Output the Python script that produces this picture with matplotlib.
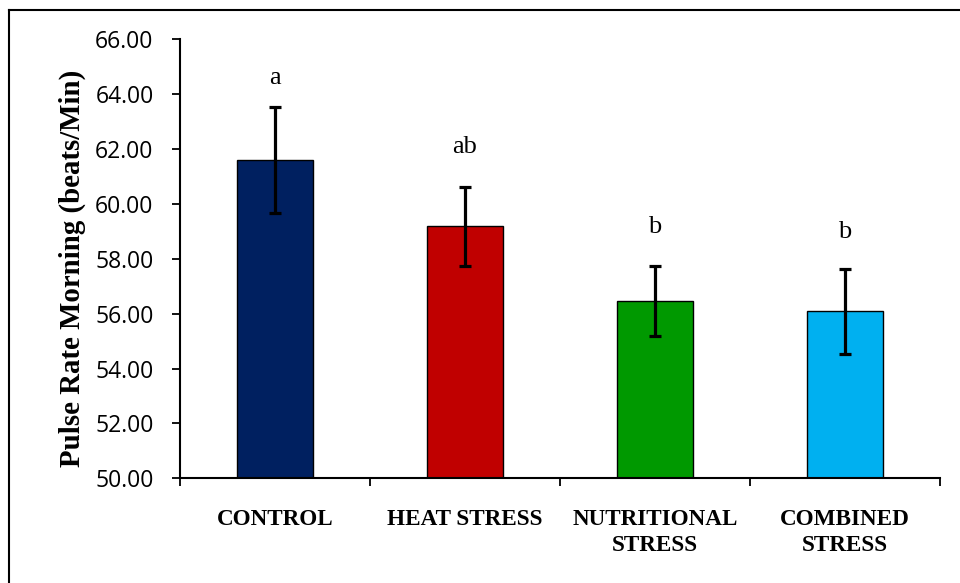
import matplotlib
matplotlib.use("Agg")
import matplotlib.pyplot as plt
from matplotlib.lines import Line2D

categories = ["CONTROL", "HEAT STRESS", "NUTRITIONAL\nSTRESS", "COMBINED\nSTRESS"]
means = [61.60, 59.18, 56.47, 56.08]
errors = [1.94, 1.44, 1.27, 1.55]
letters = ["a", "ab", "b", "b"]
letter_y = [64.37, 61.85, 58.93, 58.75]
colors = ["#002060", "#C00000", "#009900", "#00B0F0"]
yticks = [50, 52, 54, 56, 58, 60, 62, 64, 66]

W, H = 960, 583
fig = plt.figure(figsize=(W / 100, H / 100), dpi=100)
ax = fig.add_axes([180 / W, 1 - 478.3 / H, 760 / W, (478.3 - 39.3) / H])

x = list(range(len(categories)))
ax.bar(x, means, width=0.4, color=colors, edgecolor="black", linewidth=1.0, zorder=2)
ax.errorbar(x, means, yerr=errors, fmt="none", ecolor="black", elinewidth=2.3,
            capsize=4.4, capthick=2.3, zorder=3)

for xi, lab, ly in zip(x, letters, letter_y):
    ax.text(xi, ly, lab, ha="center", va="baseline", fontsize=19,
            family="Liberation Serif")

ax.set_xlim(-0.5, len(categories) - 0.5)
ax.set_ylim(50, 66)
ax.set_yticks(yticks)
ax.set_yticklabels([f"{v:.2f}" for v in yticks], family="Open Sans", fontsize=16.5)
ax.tick_params(axis="y", direction="out", length=6, width=1.3, pad=13)

ax.set_xticks(x)
ax.set_xticklabels(categories, family="Liberation Serif", fontweight="bold",
                   fontsize=16.7, linespacing=1.3, va="top")
ax.tick_params(axis="x", length=0, pad=22)
ax.set_xticks([i - 0.5 for i in range(len(categories) + 1)], minor=True)
ax.tick_params(axis="x", which="minor", direction="out", length=6, width=1.3)

for s in ["top", "right"]:
    ax.spines[s].set_visible(False)
for s in ["left", "bottom"]:
    ax.spines[s].set_linewidth(1.5)
    ax.spines[s].set_color("black")

fig.text(72 / W, 1 - 268.5 / H, "Pulse Rate Morning (beats/Min)", rotation=90,
         ha="center", va="center", family="Liberation Serif", fontweight="bold",
         fontsize=20.8)

# figure border (left and top visible)
fig.add_artist(Line2D([8.5 / W, 8.5 / W], [0, 1 - 9.5 / H], color="black", lw=1.5,
                      transform=fig.transFigure))
fig.add_artist(Line2D([8.5 / W, 1], [1 - 9.5 / H, 1 - 9.5 / H], color="black", lw=1.5,
                      transform=fig.transFigure))

fig.savefig("out.png", dpi=100)
